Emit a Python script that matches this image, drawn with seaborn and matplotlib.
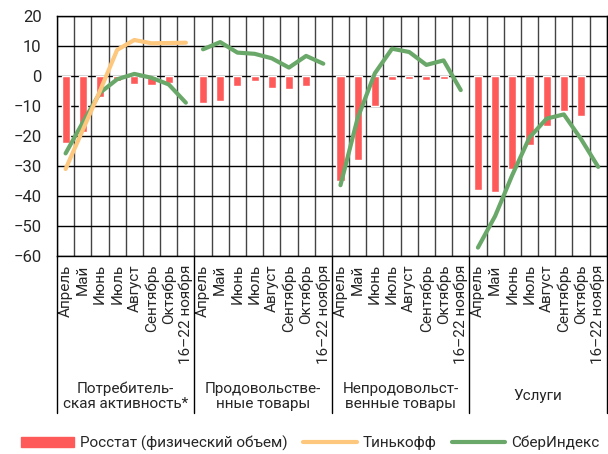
import numpy as np
import pandas as pd
import matplotlib
matplotlib.use('Agg')
import matplotlib.pyplot as plt
import matplotlib.transforms as mtransforms
from matplotlib.patches import Patch
from matplotlib.lines import Line2D
import seaborn as sns

# data
months = ['Апрель', 'Май', 'Июнь', 'Июль', 'Август', 'Сентябрь', 'Октябрь', '16–22 ноября']
groups = ['Потребитель-\nская активность*', 'Продовольстве-\nнные товары',
          'Непродовольст-\nвенные товары', 'Услуги']

rosstat_activity = [-22.4, -18.5, -7.0, -1.7, -2.5, -2.9, -2.2, np.nan]
rosstat_food = [-8.9, -8.2, -3.4, -1.8, -4.0, -4.4, -3.4, np.nan]
rosstat_nonfood = [-35.1, -28.0, -10.0, -1.4, -1.1, -1.2, -0.9, np.nan]
rosstat_services = [-37.9, -38.7, -31.1, -22.9, -16.6, -11.8, -13.3, np.nan]

sber_activity = [-25.8, -15.5, -5.6, -1.1, 0.7, -0.6, -2.8, -8.9]
sber_food = [8.9, 11.3, 7.8, 7.4, 5.9, 2.8, 6.7, 4.1]
sber_nonfood = [-36.4, -14.0, 0.9, 9.1, 8.0, 3.7, 5.2, -4.7]
sber_services = [-57.2, -46.7, -33.0, -20.5, -14.2, -12.8, -21.0, -30.3]

tinkoff_activity = [-31.0, -18.0, -5.0, 8.7, 12.0, 10.9, 11.0, 11.1]

rosstat = [rosstat_activity, rosstat_food, rosstat_nonfood, rosstat_services]
sber = [sber_activity, sber_food, sber_nonfood, sber_services]

rows = []
for g, grp in enumerate(groups):
    for m, mon in enumerate(months):
        rows.append({'key': f'{g}_{m}', 'pos': g * 8 + m, 'group': g, 'month': mon,
                     'rosstat': rosstat[g][m], 'sber': sber[g][m],
                     'tinkoff': tinkoff_activity[m] if g == 0 else np.nan})
df = pd.DataFrame(rows)

red = '#ff5a5a'
orange = '#fdc77e'
green = '#6aa86a'

sns.set_style('white')
plt.rcParams['font.family'] = ['Roboto', 'DejaVu Sans']

fig = plt.figure(figsize=(6.08, 4.54), dpi=100)
ax = fig.add_axes([57 / 608, 1 - 256 / 454, 1 - 57 / 608 - 0.002, 240 / 454])

sns.barplot(data=df, x='key', y='rosstat', order=df['key'], color=red, width=0.47,
            saturation=1, ax=ax, zorder=3)
for g in range(4):
    sub = df[df['group'] == g]
    sns.lineplot(data=sub, x='pos', y='sber', color=green, lw=3, ax=ax, zorder=4)
sns.lineplot(data=df[df['group'] == 0], x='pos', y='tinkoff', color=orange, lw=3,
             ax=ax, zorder=4)

ax.set_xlim(-0.5, 31.5)
ax.set_ylim(-60, 20)
ax.set_yticks(np.arange(-60, 21, 10))
ax.set_xticks(df['pos'])
ax.set_xticklabels(df['month'], rotation=90, fontsize=11)
ax.set_xticks(np.arange(-0.5, 32, 1), minor=True)
ax.tick_params(axis='both', which='both', length=0)
ax.tick_params(axis='y', labelsize=12, pad=11)
ax.tick_params(axis='x', pad=6)
ax.grid(axis='y', which='major', color='black', lw=1)
ax.grid(axis='x', which='minor', color='#444444', lw=1)
ax.grid(axis='x', which='major', visible=False)
ax.set_axisbelow(True)
ax.set_xlabel('')
ax.set_ylabel('')
for s in ax.spines.values():
    s.set_color('black')
    s.set_linewidth(1)

# group separators and group names under the axis
trans = mtransforms.blended_transform_factory(ax.transData, ax.transAxes)
for b in [-0.5, 7.5, 15.5, 23.5, 31.5]:
    ax.plot([b, b], [0, -157 / 240], color='black', lw=1, transform=trans, clip_on=False)
for g, grp in enumerate(groups):
    ax.text(g * 8 + 3.5, -0.585, grp, transform=trans, ha='center', va='center',
            fontsize=11, linespacing=1.1)

handles = [Patch(color=red), Line2D([], [], color=orange, lw=3), Line2D([], [], color=green, lw=3)]
labels = ['Росстат (физический объем)', 'Тинькофф', 'СберИндекс']
fig.legend(handles, labels, loc='center', bbox_to_anchor=(0.51, 1 - 443 / 454), ncol=3,
           frameon=False, fontsize=11, handlelength=3.5, handleheight=0.7,
           columnspacing=1.0, handletextpad=0.4)

fig.savefig('out.png', dpi=100)
